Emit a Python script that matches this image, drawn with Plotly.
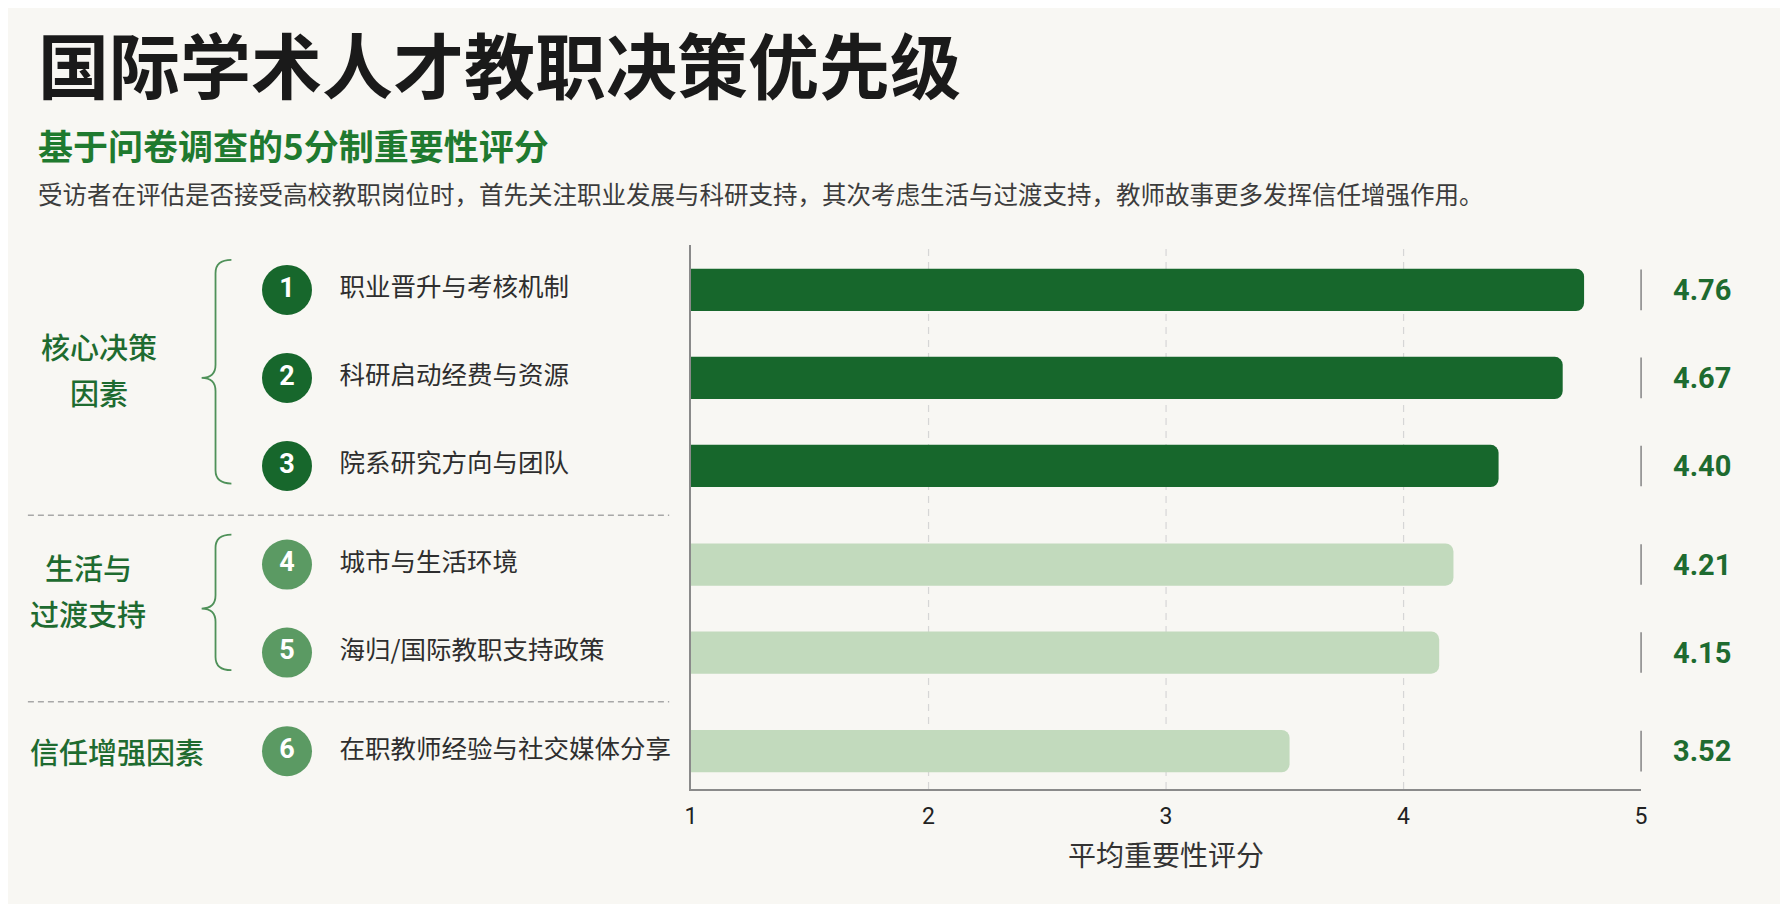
import plotly.graph_objects as go

# data
ranks = [1, 2, 3, 4, 5, 6]
factors = ["职业晋升与考核机制", "科研启动经费与资源", "院系研究方向与团队",
           "城市与生活环境", "海归/国际教职支持政策", "在职教师经验与社交媒体分享"]
scores = [4.76, 4.67, 4.40, 4.21, 4.15, 3.52]
group_of = [0, 0, 0, 1, 1, 2]
group_names = ["核心决策<br>因素", "生活与<br>过渡支持", "信任增强因素"]
x_ticks = [1, 2, 3, 4, 5]
grid_vals = [2, 3, 4]

title = "国际学术人才教职决策优先级"
subtitle = "基于问卷调查的5分制重要性评分"
desc = ("受访者在评估是否接受高校教职岗位时，首先关注职业发展与科研支持，"
        "其次考虑生活与过渡支持，教师故事更多发挥信任增强作用。")
x_title = "平均重要性评分"

# style
W, H = 1788, 904
BG = "#f8f7f3"
DARK = "#17672c"
LIGHT_BAR = "#c2dabd"
MID = "#5b9a63"
GREEN_TXT = "#1e6b30"
CJK = "Noto Sans CJK SC"
GROUP_GAP = 0.12

# row positions: one unit per row plus a small gap between groups
ypos = [i + GROUP_GAP * g for i, g in enumerate(group_of)]
bar_colors = [DARK if g == 0 else LIGHT_BAR for g in group_of]
circle_colors = [DARK if g == 0 else MID for g in group_of]

# plot area in pixels (page adds ~8px body margin)
PL, PR, PT, PB = 682, 1639, 237, 781
LEFT_W = 672

fig = go.Figure()

fig.add_trace(go.Bar(
    x=scores, y=ypos, orientation="h", width=0.48,
    marker=dict(color=bar_colors, line=dict(width=0)),
    hoverinfo="x", showlegend=False,
))

# short separators at the right end of each row
fig.add_trace(go.Scatter(
    x=[x_ticks[-1]] * len(ypos), y=ypos, mode="markers",
    marker=dict(symbol="line-ns", size=29, line=dict(width=1.6, color="#8a8a8a")),
    cliponaxis=False, hoverinfo="skip", showlegend=False,
))

# numbered circles and item labels on the left panel
fig.add_trace(go.Scatter(
    x=[275] * len(ypos), y=ypos, xaxis="x2", yaxis="y",
    mode="markers+text", text=[str(r) for r in ranks],
    textposition="middle center",
    textfont=dict(family="Roboto", size=27, color="white", weight="bold"),
    marker=dict(size=50, color=circle_colors, line=dict(width=0)),
    cliponaxis=False, hoverinfo="skip", showlegend=False,
))
fig.add_trace(go.Scatter(
    x=[328] * len(ypos), y=ypos, xaxis="x2", yaxis="y",
    mode="text", text=factors, textposition="middle right",
    textfont=dict(family=CJK, size=25.5, color="#2e2e2e"),
    cliponaxis=False, hoverinfo="skip", showlegend=False,
))

annotations = []
for v, y in zip(scores, ypos):
    annotations.append(dict(
        x=x_ticks[-1], y=y, xref="x", yref="y", text=f"{v:.2f}",
        showarrow=False, xanchor="left", yanchor="middle", xshift=30,
        font=dict(family="Roboto", size=29, color=GREEN_TXT, weight="bold"),
    ))

shapes = []
for gv in grid_vals:
    shapes.append(dict(type="line", xref="x", yref="paper", x0=gv, x1=gv,
                       y0=(H - PB) / H, y1=(H - PT) / H, layer="below",
                       line=dict(color="#d6d6d6", width=1.2, dash="7px,6px")))

group_x = [86, 75, 104]
group_lift = [9, 19, 0]
LINE_GAP = 46
n_groups = len(group_names)
for g in range(n_groups):
    rows = [ypos[i] for i in range(len(ypos)) if group_of[i] == g]
    mid = (rows[0] + rows[-1]) / 2
    lines = group_names[g].split("<br>")
    for k, line in enumerate(lines):
        offset = (len(lines) - 1) / 2 - k
        annotations.append(dict(
            x=group_x[g], y=mid, xref="x2", yref="y", text=line,
            showarrow=False, xanchor="center", yanchor="middle",
            yshift=group_lift[g] + offset * LINE_GAP,
            font=dict(family=CJK, size=29, color=GREEN_TXT, weight=500),
        ))
    if len(rows) > 1:
        top, bot = rows[0] - 0.34, rows[-1] + 0.2
        r = 0.15
        path = (f"M 219 {top} Q 203 {top} 203 {top + r} "
                f"L 203 {mid - r} Q 203 {mid} 189 {mid} "
                f"Q 203 {mid} 203 {mid + r} "
                f"L 203 {bot - r} Q 203 {bot} 219 {bot}")
        shapes.append(dict(type="path", xref="x2", yref="y", path=path,
                           line=dict(color="#4f9159", width=1.8)))
    if g < n_groups - 1:
        nxt = [ypos[i] for i in range(len(ypos)) if group_of[i] == g + 1][0]
        sep = (rows[-1] + nxt) / 2
        shapes.append(dict(type="line", xref="x2", yref="y", x0=14, x1=660,
                           y0=sep, y1=sep,
                           line=dict(color="#a8a8a8", width=1.5, dash="6px,4px")))

# header texts
for txt, yy, size, color, weight in [
    (title, 54, 71, "#1a1a1a", "bold"),
    (subtitle, 136, 35, "#1f7a2f", "bold"),
    (desc, 186, 24.5, "#3c3c3c", "normal"),
]:
    annotations.append(dict(
        x=22 / W, y=1 - yy / H, xref="paper", yref="paper", text=txt,
        showarrow=False, xanchor="left", yanchor="middle",
        font=dict(family=CJK, size=size, color=color, weight=weight),
    ))

y_top = ypos[0] - 0.51
y_bot = ypos[-1] + 0.43

fig.update_layout(
    width=W, height=H,
    paper_bgcolor=BG, plot_bgcolor=BG,
    margin=dict(l=0, r=0, t=0, b=0),
    showlegend=False,
    barcornerradius=8,
    xaxis=dict(
        domain=[PL / W, PR / W], range=[1, 5], tickvals=x_ticks,
        showgrid=False, zeroline=False, showline=True,
        linecolor="#8a8a8a", linewidth=2, ticks="", ticklabelstandoff=5,
        tickfont=dict(family="Roboto", size=23, color="#222222"),
        title=dict(text=x_title, standoff=18,
                   font=dict(family=CJK, size=28, color="#333333")),
        anchor="y", fixedrange=True,
    ),
    xaxis2=dict(
        domain=[0, LEFT_W / W], range=[0, LEFT_W], visible=False,
        anchor="y", fixedrange=True,
    ),
    yaxis=dict(
        domain=[(H - PB) / H, (H - PT) / H], range=[y_bot, y_top],
        showgrid=False, zeroline=False, showticklabels=False,
        showline=True, linecolor="#8a8a8a", linewidth=2, ticks="",
        anchor="x", fixedrange=True,
    ),
    annotations=annotations,
    shapes=shapes,
)

fig.write_html("out.html")
